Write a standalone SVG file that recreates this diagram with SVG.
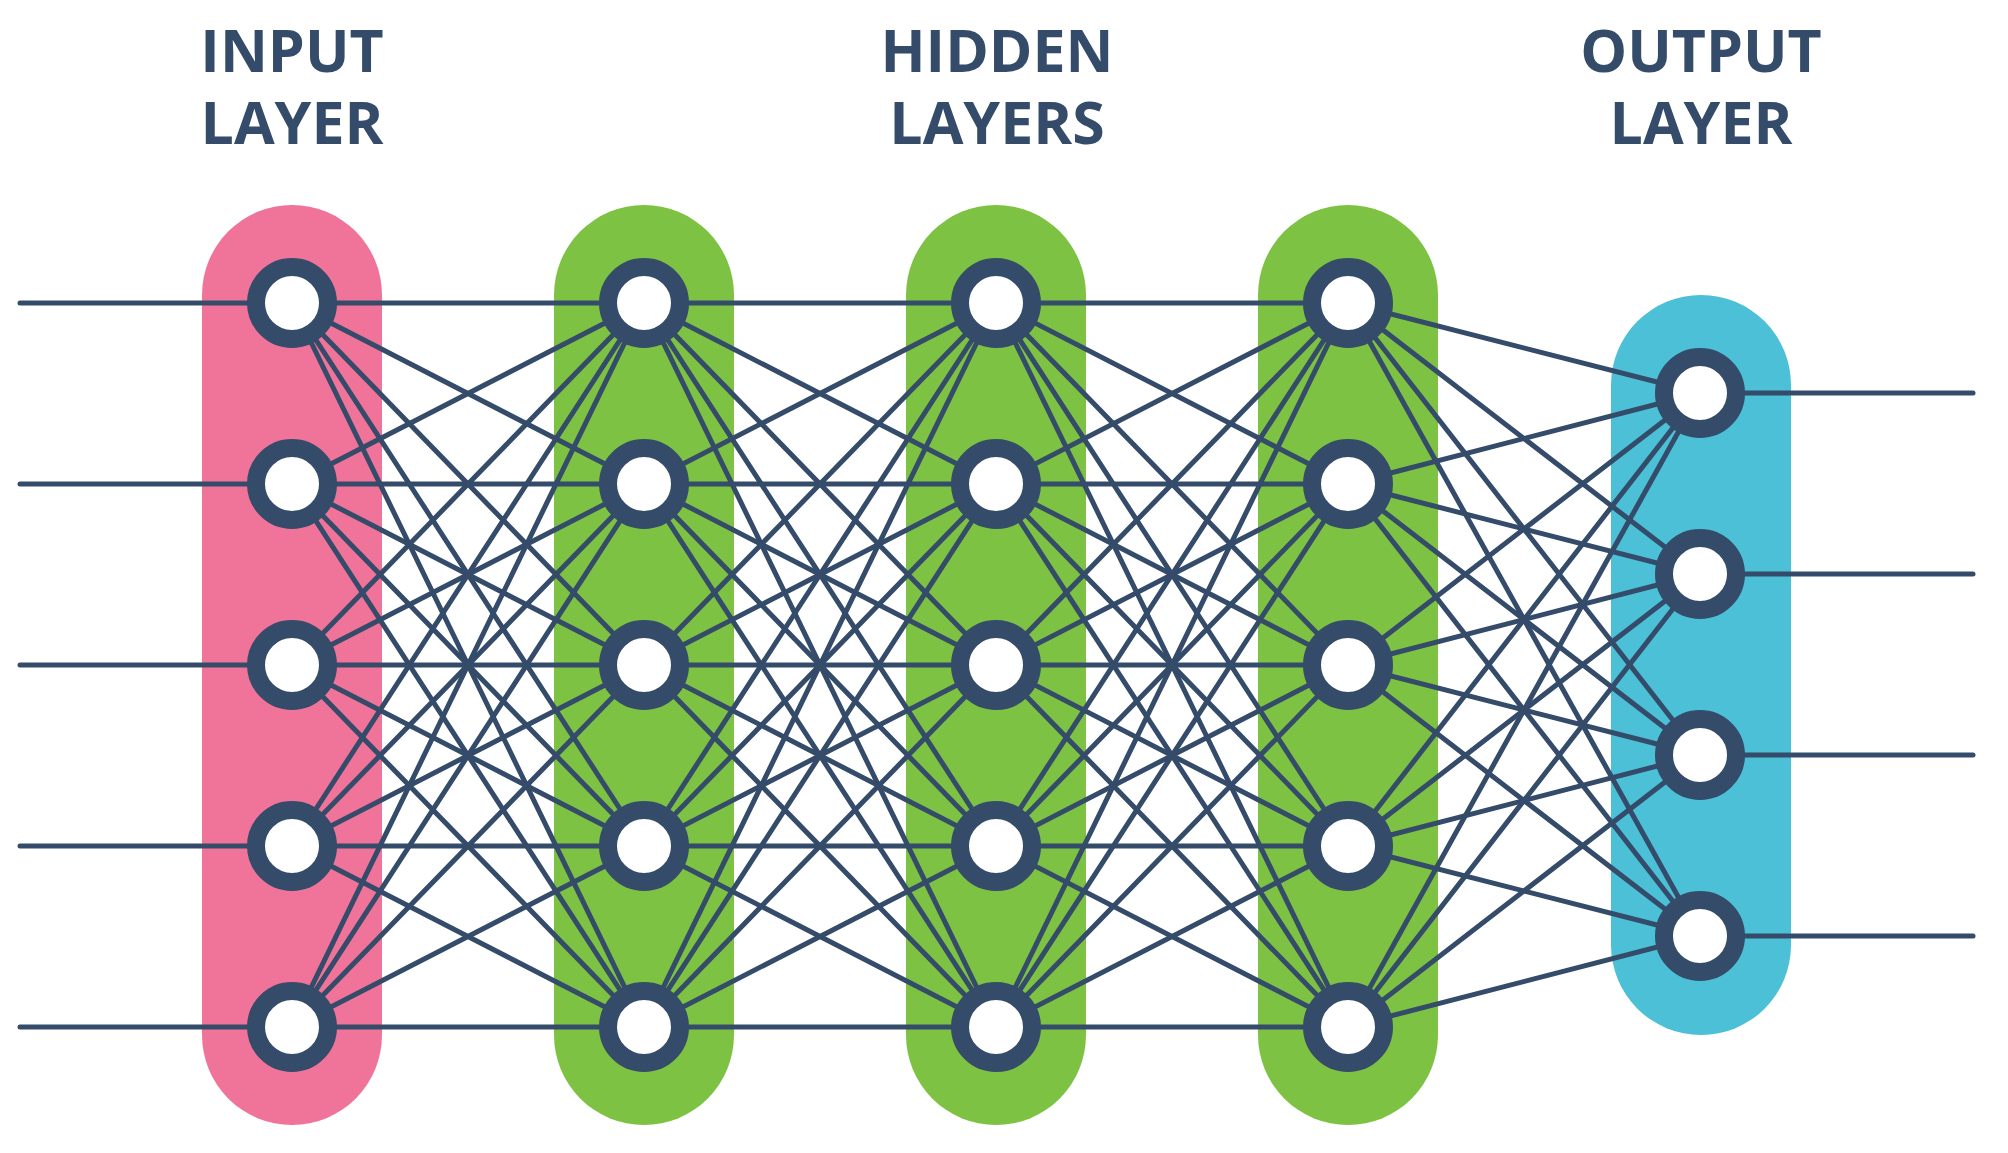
<svg xmlns="http://www.w3.org/2000/svg" width="2008" height="1153" viewBox="0 0 2008 1153">
<style>
.t{font-family:"Open Sans","Liberation Sans",sans-serif;font-weight:700;font-size:59px;fill:#344b6a;text-anchor:middle}
.c line{stroke:#344b6a;stroke-width:5;stroke-linecap:round}
.n{fill:#ffffff;stroke:#344b6a;stroke-width:18}
</style>
<rect width="2008" height="1153" fill="#ffffff"/>
<g id="titles">
<text class="t" x="292" y="72">INPUT</text><text class="t" x="292" y="144">LAYER</text>
<text class="t" x="997" y="72">HIDDEN</text><text class="t" x="997" y="144">LAYERS</text>
<text class="t" x="1701" y="72">OUTPUT</text><text class="t" x="1701" y="144">LAYER</text>
</g>
<g id="pills">
<rect id="pill-input" x="202" y="205" width="180" height="920" rx="90" fill="#f07499"/>
<rect id="pill-h1" x="554" y="205" width="180" height="920" rx="90" fill="#7dc242"/>
<rect id="pill-h2" x="906" y="205" width="180" height="920" rx="90" fill="#7dc242"/>
<rect id="pill-h3" x="1258" y="205" width="180" height="920" rx="90" fill="#7dc242"/>
<rect id="pill-output" x="1611" y="295" width="180" height="740" rx="90" fill="#4bc0d6"/>
</g>
<g id="connectors" class="c">
<line x1="20" y1="303" x2="292" y2="303"/><line x1="20" y1="484" x2="292" y2="484"/><line x1="20" y1="665" x2="292" y2="665"/><line x1="20" y1="846" x2="292" y2="846"/><line x1="20" y1="1027" x2="292" y2="1027"/>
<line x1="1700" y1="393" x2="1973" y2="393"/><line x1="1700" y1="574" x2="1973" y2="574"/><line x1="1700" y1="755" x2="1973" y2="755"/><line x1="1700" y1="936" x2="1973" y2="936"/>
<line x1="292" y1="303" x2="644" y2="303"/><line x1="292" y1="303" x2="644" y2="484"/><line x1="292" y1="303" x2="644" y2="665"/><line x1="292" y1="303" x2="644" y2="846"/><line x1="292" y1="303" x2="644" y2="1027"/>
<line x1="292" y1="484" x2="644" y2="303"/><line x1="292" y1="484" x2="644" y2="484"/><line x1="292" y1="484" x2="644" y2="665"/><line x1="292" y1="484" x2="644" y2="846"/><line x1="292" y1="484" x2="644" y2="1027"/>
<line x1="292" y1="665" x2="644" y2="303"/><line x1="292" y1="665" x2="644" y2="484"/><line x1="292" y1="665" x2="644" y2="665"/><line x1="292" y1="665" x2="644" y2="846"/><line x1="292" y1="665" x2="644" y2="1027"/>
<line x1="292" y1="846" x2="644" y2="303"/><line x1="292" y1="846" x2="644" y2="484"/><line x1="292" y1="846" x2="644" y2="665"/><line x1="292" y1="846" x2="644" y2="846"/><line x1="292" y1="846" x2="644" y2="1027"/>
<line x1="292" y1="1027" x2="644" y2="303"/><line x1="292" y1="1027" x2="644" y2="484"/><line x1="292" y1="1027" x2="644" y2="665"/><line x1="292" y1="1027" x2="644" y2="846"/><line x1="292" y1="1027" x2="644" y2="1027"/>
<line x1="644" y1="303" x2="996" y2="303"/><line x1="644" y1="303" x2="996" y2="484"/><line x1="644" y1="303" x2="996" y2="665"/><line x1="644" y1="303" x2="996" y2="846"/><line x1="644" y1="303" x2="996" y2="1027"/>
<line x1="644" y1="484" x2="996" y2="303"/><line x1="644" y1="484" x2="996" y2="484"/><line x1="644" y1="484" x2="996" y2="665"/><line x1="644" y1="484" x2="996" y2="846"/><line x1="644" y1="484" x2="996" y2="1027"/>
<line x1="644" y1="665" x2="996" y2="303"/><line x1="644" y1="665" x2="996" y2="484"/><line x1="644" y1="665" x2="996" y2="665"/><line x1="644" y1="665" x2="996" y2="846"/><line x1="644" y1="665" x2="996" y2="1027"/>
<line x1="644" y1="846" x2="996" y2="303"/><line x1="644" y1="846" x2="996" y2="484"/><line x1="644" y1="846" x2="996" y2="665"/><line x1="644" y1="846" x2="996" y2="846"/><line x1="644" y1="846" x2="996" y2="1027"/>
<line x1="644" y1="1027" x2="996" y2="303"/><line x1="644" y1="1027" x2="996" y2="484"/><line x1="644" y1="1027" x2="996" y2="665"/><line x1="644" y1="1027" x2="996" y2="846"/><line x1="644" y1="1027" x2="996" y2="1027"/>
<line x1="996" y1="303" x2="1348" y2="303"/><line x1="996" y1="303" x2="1348" y2="484"/><line x1="996" y1="303" x2="1348" y2="665"/><line x1="996" y1="303" x2="1348" y2="846"/><line x1="996" y1="303" x2="1348" y2="1027"/>
<line x1="996" y1="484" x2="1348" y2="303"/><line x1="996" y1="484" x2="1348" y2="484"/><line x1="996" y1="484" x2="1348" y2="665"/><line x1="996" y1="484" x2="1348" y2="846"/><line x1="996" y1="484" x2="1348" y2="1027"/>
<line x1="996" y1="665" x2="1348" y2="303"/><line x1="996" y1="665" x2="1348" y2="484"/><line x1="996" y1="665" x2="1348" y2="665"/><line x1="996" y1="665" x2="1348" y2="846"/><line x1="996" y1="665" x2="1348" y2="1027"/>
<line x1="996" y1="846" x2="1348" y2="303"/><line x1="996" y1="846" x2="1348" y2="484"/><line x1="996" y1="846" x2="1348" y2="665"/><line x1="996" y1="846" x2="1348" y2="846"/><line x1="996" y1="846" x2="1348" y2="1027"/>
<line x1="996" y1="1027" x2="1348" y2="303"/><line x1="996" y1="1027" x2="1348" y2="484"/><line x1="996" y1="1027" x2="1348" y2="665"/><line x1="996" y1="1027" x2="1348" y2="846"/><line x1="996" y1="1027" x2="1348" y2="1027"/>
<line x1="1348" y1="303" x2="1700" y2="393"/><line x1="1348" y1="303" x2="1700" y2="574"/><line x1="1348" y1="303" x2="1700" y2="755"/><line x1="1348" y1="303" x2="1700" y2="936"/>
<line x1="1348" y1="484" x2="1700" y2="393"/><line x1="1348" y1="484" x2="1700" y2="574"/><line x1="1348" y1="484" x2="1700" y2="755"/><line x1="1348" y1="484" x2="1700" y2="936"/>
<line x1="1348" y1="665" x2="1700" y2="393"/><line x1="1348" y1="665" x2="1700" y2="574"/><line x1="1348" y1="665" x2="1700" y2="755"/><line x1="1348" y1="665" x2="1700" y2="936"/>
<line x1="1348" y1="846" x2="1700" y2="393"/><line x1="1348" y1="846" x2="1700" y2="574"/><line x1="1348" y1="846" x2="1700" y2="755"/><line x1="1348" y1="846" x2="1700" y2="936"/>
<line x1="1348" y1="1027" x2="1700" y2="393"/><line x1="1348" y1="1027" x2="1700" y2="574"/><line x1="1348" y1="1027" x2="1700" y2="755"/><line x1="1348" y1="1027" x2="1700" y2="936"/>
</g>
<g id="input-nodes">
<g id="in1"><circle class="n" cx="292" cy="303" r="36"/></g>
<g id="in2"><circle class="n" cx="292" cy="484" r="36"/></g>
<g id="in3"><circle class="n" cx="292" cy="665" r="36"/></g>
<g id="in4"><circle class="n" cx="292" cy="846" r="36"/></g>
<g id="in5"><circle class="n" cx="292" cy="1027" r="36"/></g>
</g>
<g id="hidden1-nodes">
<g id="h1n1"><circle class="n" cx="644" cy="303" r="36"/></g>
<g id="h1n2"><circle class="n" cx="644" cy="484" r="36"/></g>
<g id="h1n3"><circle class="n" cx="644" cy="665" r="36"/></g>
<g id="h1n4"><circle class="n" cx="644" cy="846" r="36"/></g>
<g id="h1n5"><circle class="n" cx="644" cy="1027" r="36"/></g>
</g>
<g id="hidden2-nodes">
<g id="h2n1"><circle class="n" cx="996" cy="303" r="36"/></g>
<g id="h2n2"><circle class="n" cx="996" cy="484" r="36"/></g>
<g id="h2n3"><circle class="n" cx="996" cy="665" r="36"/></g>
<g id="h2n4"><circle class="n" cx="996" cy="846" r="36"/></g>
<g id="h2n5"><circle class="n" cx="996" cy="1027" r="36"/></g>
</g>
<g id="hidden3-nodes">
<g id="h3n1"><circle class="n" cx="1348" cy="303" r="36"/></g>
<g id="h3n2"><circle class="n" cx="1348" cy="484" r="36"/></g>
<g id="h3n3"><circle class="n" cx="1348" cy="665" r="36"/></g>
<g id="h3n4"><circle class="n" cx="1348" cy="846" r="36"/></g>
<g id="h3n5"><circle class="n" cx="1348" cy="1027" r="36"/></g>
</g>
<g id="output-nodes">
<g id="out1"><circle class="n" cx="1700" cy="393" r="36"/></g>
<g id="out2"><circle class="n" cx="1700" cy="574" r="36"/></g>
<g id="out3"><circle class="n" cx="1700" cy="755" r="36"/></g>
<g id="out4"><circle class="n" cx="1700" cy="936" r="36"/></g>
</g>
</svg>
